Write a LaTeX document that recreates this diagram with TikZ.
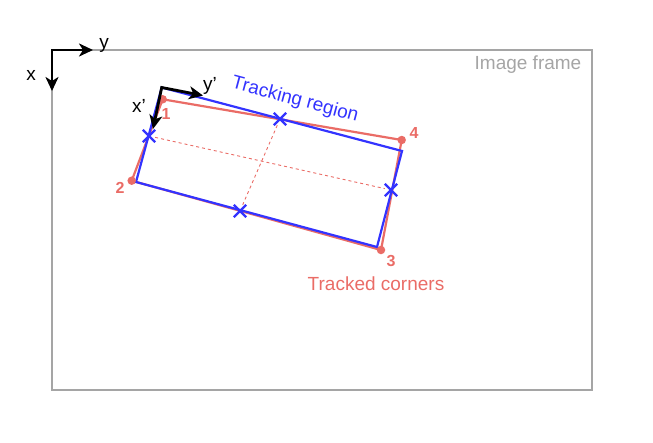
\documentclass[tikz,border=0pt]{standalone}
\usepackage{fontspec}
\setmainfont{Liberation Sans}
\usetikzlibrary{arrows.meta,shapes.misc}
\definecolor{trackred}{RGB}{234,108,102}
\definecolor{trackblue}{RGB}{51,51,255}
\definecolor{framegray}{RGB}{165,165,165}
\begin{document}
\begin{tikzpicture}[x=1pt,y=-1pt,
	every node/.style={font=\fontsize{19}{22}\selectfont},
	axis/.style={line width=2.8pt,{Stealth[length=14pt,width=13pt,inset=4pt]}-{Stealth[length=14pt,width=13pt,inset=4pt]}},
	corner/.style={circle,fill=trackred,inner sep=0pt,minimum size=8.5pt},
	cornerlabel/.style={text=trackred,font=\fontsize{16}{18}\selectfont\bfseries},
	marker/.style={cross out,draw=trackblue,line width=2.4pt,minimum size=10pt,inner sep=0pt}]
	\useasboundingbox (0,0) rectangle (653,442);

	\draw [framegray, line width=2pt] (52,50) rectangle (592,390);
	\node [text=framegray] at (528,65) (frame) {Image frame};

	\coordinate (o) at (52,50);
	\coordinate (ox) at (52,91);
	\coordinate (oy) at (93,50);
	\draw [axis] (ox) -- (o) -- (oy);
	\node at (31,75) (x) {x};
	\node at (104,45) (y) {y};

	\coordinate (c1) at (162.7,99.3);
	\coordinate (c2) at (131.7,180.7);
	\coordinate (c3) at (381,250);
	\coordinate (c4) at (401.7,140);
	\draw [trackred, line width=2.2pt, line join=round] (c1) -- (c2) -- (c3) -- (c4) -- cycle;

	\coordinate (b1) at (161.7,87.5);
	\coordinate (b2) at (136,182);
	\coordinate (b3) at (377,247);
	\coordinate (b4) at (402,151);
	\draw [trackblue, line width=2.2pt] (b1) -- (b2) -- (b3) -- (b4) -- cycle;

	\node [marker] at (149,136) (m1) {};
	\node [marker] at (280,119) (m2) {};
	\node [marker] at (391,190) (m3) {};
	\node [marker] at (240,211) (m4) {};
	\draw [trackred, dash pattern=on 3pt off 3pt, line width=0.9pt] (m1) -- (m3);
	\draw [trackred, dash pattern=on 3pt off 3pt, line width=0.9pt] (m2) -- (m4);

	\node [corner] at (c1) (p1) {};
	\node [corner] at (c2) (p2) {};
	\node [corner] at (c3) (p3) {};
	\node [corner] at (c4) (p4) {};
	\node [cornerlabel] at (166,114) (l1) {1};
	\node [cornerlabel] at (120,188) (l2) {2};
	\node [cornerlabel] at (391,261) (l3) {3};
	\node [cornerlabel] at (414,133) (l4) {4};

	\coordinate (xp) at (153,129);
	\coordinate (yp) at (203,95.5);
	\draw [axis] (xp) -- (b1) -- (yp);
	\node at (139,106) (xl) {x'};
	\node at (210,86) (yl) {y'};

	\node [text=trackblue, rotate=-15] at (295,100) (region) {Tracking region};
	\node [text=trackred] at (376,284) (corners) {Tracked corners};
\end{tikzpicture}
\end{document}
